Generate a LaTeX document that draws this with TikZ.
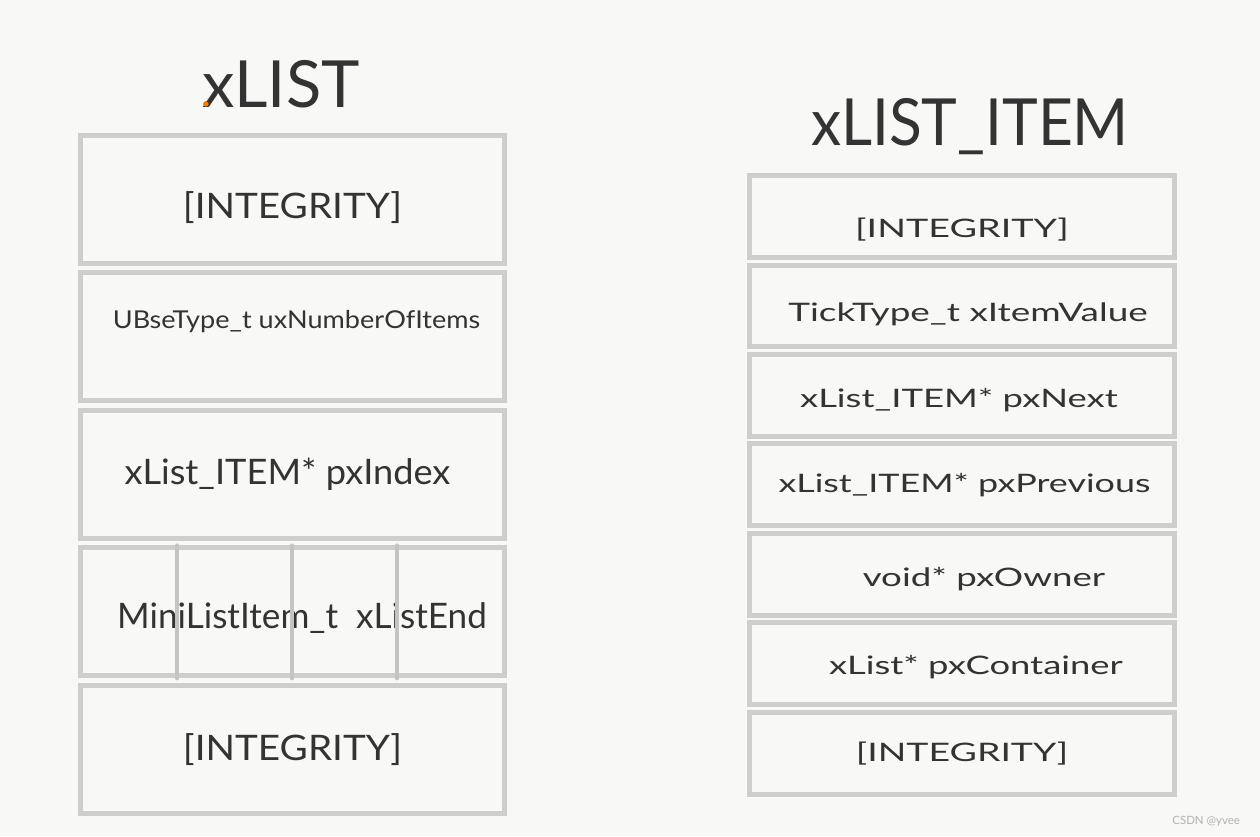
\documentclass[tikz,border=0pt]{standalone}
\usepackage{fontspec}
\setmainfont{Lato}
\usepackage{graphicx}
\usetikzlibrary{positioning}
\usetikzlibrary{calc}
\definecolor{paper}{RGB}{248,248,246}
\definecolor{edge}{RGB}{206,206,204}
\definecolor{ink}{RGB}{51,51,51}
\newcommand{\widetext}[2]{\scalebox{#1}[1]{#2}}
\newcommand{\lifttext}[2]{\raisebox{#1}[\height][\depth]{#2}}

\begin{document}
\begin{tikzpicture}[x=0.02cm,y=-0.02cm,
fieldbox/.style={rectangle, draw=edge, fill=paper, line width=0.1cm, text=ink, inner sep=0pt, align=center},
bigfield/.style={fieldbox, minimum width=8.48cm, minimum height=2.56cm, font=\fontsize{20}{24}\selectfont},
smallfield/.style={fieldbox, minimum width=8.5cm, minimum height=1.64cm, font=\fontsize{14.5}{17}\selectfont},
titlenode/.style={text=ink, inner sep=0pt, font=\fontsize{37}{42}\selectfont},
divider/.style={draw=edge!95!black, line width=0.08cm, line cap=round},
]
%Background
\fill[paper] (0,0) rectangle (1260,836);
\useasboundingbox (0,0) rectangle (1260,836);

%Titles
\node[titlenode, anchor=base]	(listtitle)		at (281,107)	{xLIST};
\node[titlenode, anchor=base]	(itemtitle)		at (970,145)	{\widetext{0.93}{xLIST\_ITEM}};
\fill[orange, draw=orange!70!black, line width=0.2pt] (206,104) circle[radius=2.5];

%xLIST
\node[bigfield]		(lint1)		at (292.5,199.5)		{\lifttext{-0.16cm}{\widetext{1.1}{[INTEGRITY]}}};
\node[bigfield]		(count)		[below=0.09cm of lint1]	{\hspace*{0.16cm}\lifttext{0.3cm}{\fontsize{14}{17}\selectfont\widetext{1.1}{UBseType\_t uxNumberOfItems}}};
\node[bigfield]		(index)		[below=0.09cm of count]	{\hspace*{-0.2cm}\widetext{1.03}{xList\_ITEM* pxIndex}};
\node[bigfield]		(mini)		[below=0.09cm of index]	{\hspace*{0.38cm}\lifttext{-0.12cm}{\widetext{1.0}{MiniListItem\_t\ \ xListEnd}}};
\node[bigfield]		(lint2)		[below=0.09cm of mini]	{\widetext{1.1}{[INTEGRITY]}};

%xLIST_ITEM
\node[smallfield]	(iint1)		at (962,216.5)			{\lifttext{-0.27cm}{\widetext{1.48}{[INTEGRITY]}}};
\node[smallfield]	(value)		[below=0.05cm of iint1]	{\hspace*{0.24cm}\lifttext{-0.16cm}{\widetext{1.45}{TickType\_t xItemValue}}};
\node[smallfield]	(next)		[below=0.05cm of value]	{\hspace*{-0.12cm}\lifttext{-0.1cm}{\widetext{1.43}{xList\_ITEM* pxNext}}};
\node[smallfield]	(prev)		[below=0.05cm of next]	{\hspace*{0.1cm}\widetext{1.41}{xList\_ITEM* pxPrevious}};
\node[smallfield]	(owner)		[below=0.05cm of prev]	{\hspace*{0.88cm}\lifttext{-0.1cm}{\widetext{1.44}{void* pxOwner}}};
\node[smallfield]	(cont)		[below=0.05cm of owner]	{\hspace*{0.56cm}\lifttext{-0.06cm}{\widetext{1.43}{xList* pxContainer}}};
\node[smallfield]	(iint2)		[below=0.05cm of cont]	{\widetext{1.47}{[INTEGRITY]}};

%Lines
\foreach \f in {0.231,0.499,0.744}
	\draw[divider] ($(mini.north west)!\f!(mini.north east)$) -- ($(mini.south west)!\f!(mini.south east)$);

\node[text=black!30, font=\fontsize{6.5}{8}\selectfont, anchor=east] (mark) at (1246,821) {CSDN @yvee};
\end{tikzpicture}
\end{document}
